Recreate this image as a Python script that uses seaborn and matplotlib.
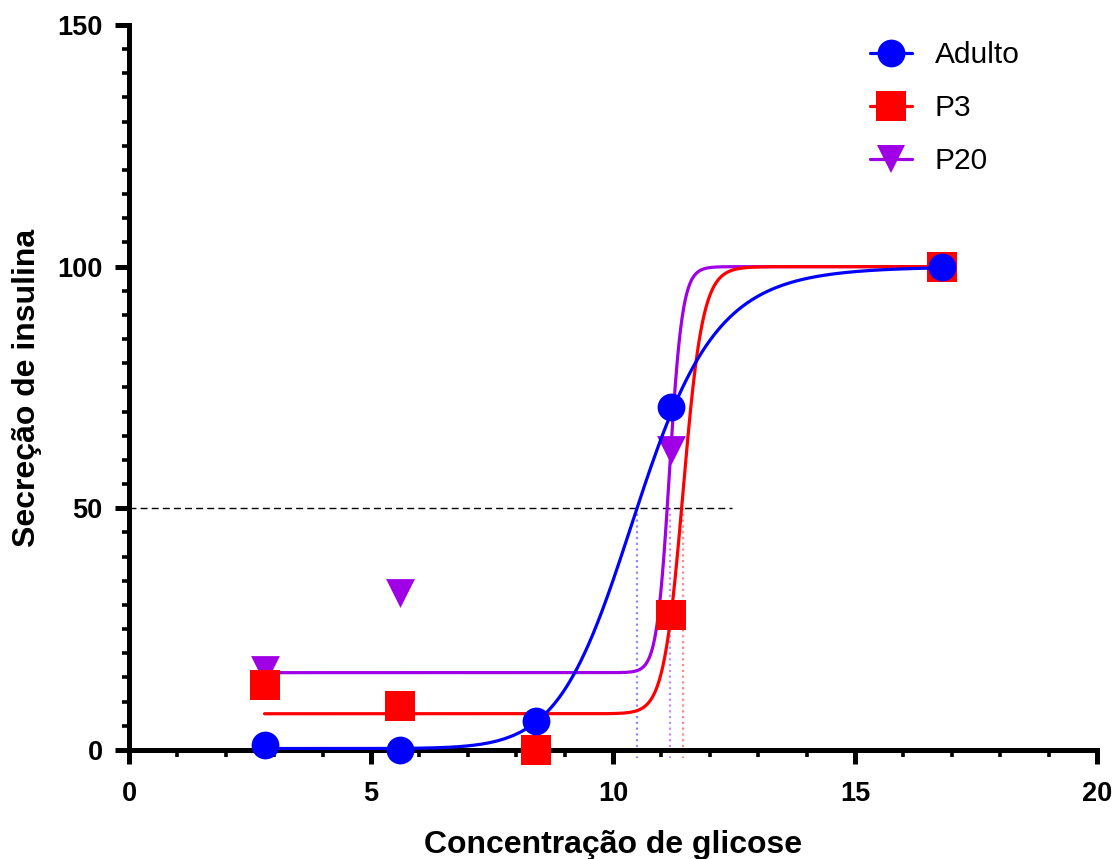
import numpy as np
import pandas as pd
import matplotlib
matplotlib.use("Agg")
import matplotlib.pyplot as plt
from matplotlib.ticker import MultipleLocator
from matplotlib.lines import Line2D
import seaborn as sns

# ---------------- data ----------------
groups = ["Adulto", "P3", "P20"]
glucose = [2.8, 5.6, 8.4, 11.2, 16.8]
adulto = [1.0, 0.0, 6.0, 71.0, 100.0]
p3 = [13.5, 9.0, 0.0, 28.0, 100.0]
p20 = [16.5, 32.5, 0.0, 62.0, 100.0]

# fitted sigmoid (Hill) parameters
fit_bottom = [0.3, 7.5, 16.0]
fit_top = [100.0, 100.0, 100.0]
fit_ec50 = [10.5, 11.45, 11.17]
fit_hill = [12.8, 57.0, 85.0]

x_ticks = [0, 5, 10, 15, 20]
y_ticks = [0, 50, 100, 150]
half_level = 50
half_line_end = 12.45

colors = ["#0000FF", "#FF0000", "#A000E6"]
light_colors = ["#8C8CFF", "#FF8C8C", "#C88CF0"]
markers = ["o", "s", "v"]
marker_area = [400, 470, 430]

df = pd.DataFrame({
    "glicose": glucose * 3,
    "insulina": adulto + p3 + p20,
    "grupo": sum([[g] * len(glucose) for g in groups], []),
})

# ---------------- style ----------------
sns.set_style("ticks")
plt.rcParams["font.family"] = ["Liberation Sans", "DejaVu Sans"]
plt.rcParams["text.color"] = "black"
plt.rcParams["axes.labelcolor"] = "black"
plt.rcParams["xtick.color"] = "black"
plt.rcParams["ytick.color"] = "black"

fig = plt.figure(figsize=(11.18, 8.59), dpi=100)
ax = fig.add_axes([0.1154, 0.1269, 0.8658, 0.844])

# curves & points, first group drawn on top
for i, g in enumerate(groups):
    z = 10 - 2 * i
    xs = np.linspace(glucose[0], glucose[-1], 1200)
    b, t, ec, h = fit_bottom[i], fit_top[i], fit_ec50[i], fit_hill[i]
    ys = b + (t - b) * xs ** h / (ec ** h + xs ** h)
    sns.lineplot(x=xs, y=ys, color=colors[i], lw=2.3, ax=ax, estimator=None,
                 sort=False, zorder=z - 0.5)
    sub = df[df["grupo"] == g]
    sns.scatterplot(data=sub, x="glicose", y="insulina", color=colors[i],
                    marker=markers[i], s=marker_area[i], linewidth=0, ax=ax,
                    zorder=z, clip_on=False)
    # EC50 drop line
    ax.plot([ec, ec], [half_level, -1.6], color=light_colors[i], lw=1.6,
            linestyle=(0, (1, 1.6)), zorder=2, clip_on=False)

ax.plot([0, half_line_end], [half_level, half_level], color="black", lw=1.0,
        linestyle=(0, (5, 3)), zorder=2)

ax.set_xlim(0, 20)
ax.set_ylim(0, 150)
ax.set_xticks(x_ticks)
ax.set_yticks(y_ticks)
ax.xaxis.set_minor_locator(MultipleLocator(1))
ax.yaxis.set_minor_locator(MultipleLocator(5))

for side in ["top", "right"]:
    ax.spines[side].set_visible(False)
for side in ["left", "bottom"]:
    ax.spines[side].set_linewidth(3.6)
    ax.spines[side].set_color("black")
    ax.spines[side].set_capstyle("projecting")

ax.tick_params(which="major", length=10, width=3.6, color="black",
               labelsize=19.5, labelcolor="black")
ax.tick_params(axis="x", which="major", pad=12)
ax.tick_params(axis="y", which="major", pad=9)
ax.tick_params(which="minor", length=5, width=2.6, color="black")
for lab in ax.get_xticklabels() + ax.get_yticklabels():
    lab.set_fontweight("bold")

ax.set_xlabel("Concentração de glicose", fontsize=23, fontweight="bold",
              labelpad=17, color="black")
ax.set_ylabel("Secreção de insulina", fontsize=23, fontweight="bold",
              labelpad=11, color="black")

handles = [Line2D([], [], color=colors[i], marker=markers[i],
                  markersize=np.sqrt(marker_area[i]),
                  markeredgewidth=0, lw=2.3) for i in range(3)]
ax.legend(handles, groups, loc="upper left",
          bbox_to_anchor=(870 / 1118, 1 - 41 / 859),
          bbox_transform=fig.transFigure, frameon=False, fontsize=21.5,
          handlelength=1.4, handletextpad=0.77, labelspacing=0.84,
          borderpad=0, borderaxespad=0)

fig.savefig("out.png", dpi=100)
